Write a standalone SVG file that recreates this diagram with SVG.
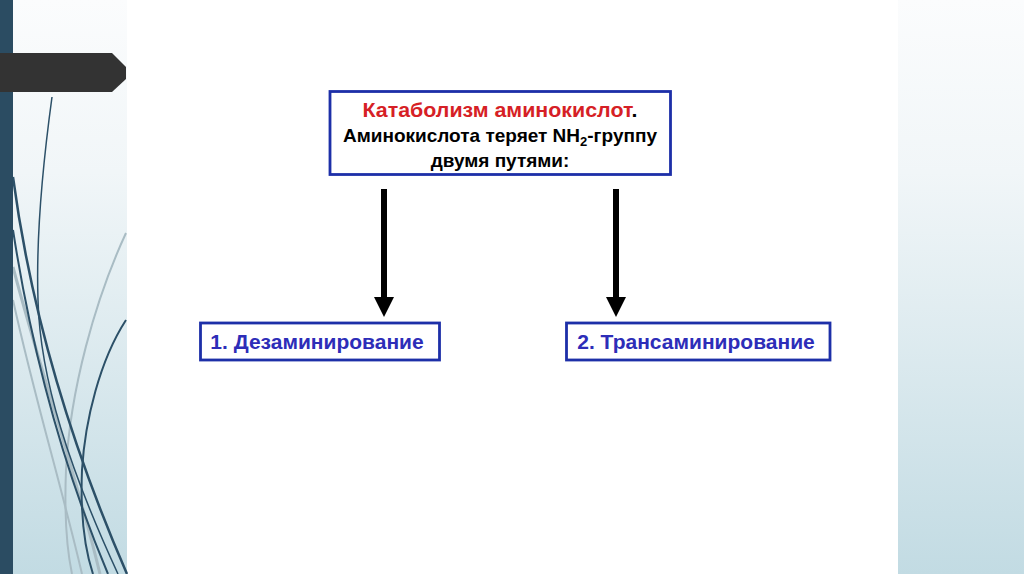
<svg xmlns="http://www.w3.org/2000/svg" width="1024" height="574" viewBox="0 0 1024 574">
<defs>
<linearGradient id="side" x1="0" y1="0" x2="0" y2="1">
<stop offset="0" stop-color="#fbfcfd"/>
<stop offset="0.3" stop-color="#f1f6f8"/>
<stop offset="1" stop-color="#c2dbe3"/>
</linearGradient>
<style>
.box{fill:#fff;stroke:#1d2fa8;stroke-width:2.8}
.t{font-family:"Liberation Sans",Arial,sans-serif;font-weight:bold;text-anchor:middle}
.dk{fill:none;stroke:#2c5068}
.lt{fill:none;stroke:#a9bcc4}
.conn{stroke:#000;stroke-width:6;fill:none}
.head{fill:#000}
</style>
</defs>
<rect x="0" y="0" width="1024" height="574" fill="#fff"/>
<g id="background">
<rect x="13" y="0" width="114" height="574" fill="url(#side)"/>
<rect x="898" y="0" width="126" height="574" fill="url(#side)"/>
<path class="lt" stroke-width="2" d="M126,233 C95,300 70,390 66,470 C64,520 68,555 72,574"/>
<path class="lt" stroke-width="3" d="M13,267 C40,370 75,470 100,574"/>
<path class="lt" stroke-width="2" d="M13,300 C35,400 60,480 82,574"/>
<path class="dk" stroke-width="1.5" d="M52,97 C42,170 36,240 38,300 C40,380 70,470 118,574"/>
<path class="dk" stroke-width="2.5" d="M13,177 C28,290 60,420 127,574"/>
<path class="dk" stroke-width="2" d="M13,230 C30,340 60,460 108,574"/>
<path class="dk" stroke-width="2" d="M126,320 C100,360 85,420 82,470 C80,520 85,550 93,574"/>
</g>
<rect x="0" y="0" width="13" height="574" fill="#2b4c62"/>
<path d="M0,53 L112,53 L126,67 L126,79 L112,92 L0,92 Z" fill="#333"/>
<g id="connectors">
<line class="conn" x1="384" y1="189" x2="384" y2="298"/>
<path class="head" d="M374,297 L394,297 L384,317 Z"/>
<line class="conn" x1="616" y1="189" x2="616" y2="298"/>
<path class="head" d="M606,297 L626,297 L616,317 Z"/>
</g>
<g id="top">
<rect class="box" x="330" y="91.5" width="340.5" height="83"/>
<text class="t" x="500" y="117" font-size="20" textLength="275" lengthAdjust="spacingAndGlyphs"><tspan fill="#d61f26">Катаболизм аминокислот</tspan><tspan fill="#000">.</tspan></text>
<text class="t" x="500" y="142" font-size="19" fill="#000">Аминокислота теряет NH<tspan font-size="13" dy="4">2</tspan><tspan dy="-4">-группу</tspan></text>
<text class="t" x="500" y="167" font-size="19" fill="#000">двумя путями:</text>
</g>
<g id="deamination">
<rect class="box" x="200.5" y="323" width="239" height="37"/>
<text class="t" x="317" y="348.5" font-size="21" fill="#2d2db8">1. Дезаминирование</text>
</g>
<g id="transamination">
<rect class="box" x="566.5" y="323" width="263.5" height="37"/>
<text class="t" x="696" y="348.5" font-size="21" fill="#2d2db8">2. Трансаминирование</text>
</g>
</svg>
